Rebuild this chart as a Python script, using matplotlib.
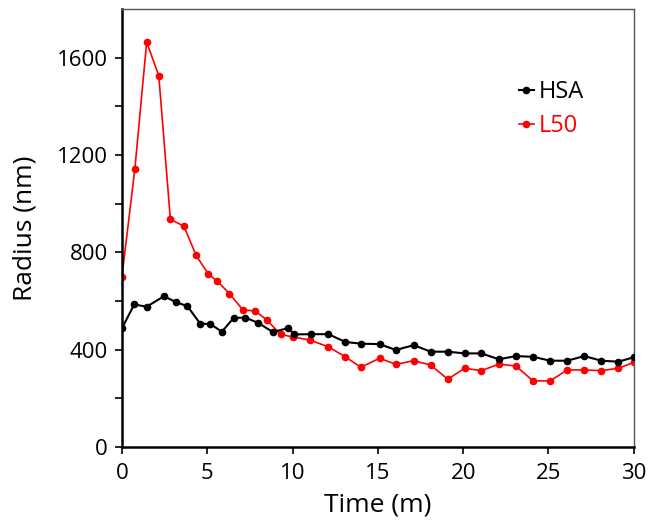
import matplotlib.pyplot as plt

# HSA series (time in minutes, radius in nm)
hsa_t = [0, 0.72, 1.45, 2.47, 3.16, 3.84, 4.59, 5.18, 5.86, 6.55, 7.24, 8.0, 8.84,
         9.75, 10.1, 11.06, 12.1, 13.1, 14.0, 15.1, 16.06, 17.1, 18.1, 19.1, 20.1,
         21.06, 22.1, 23.1, 24.1, 25.1, 26.1, 27.1, 28.1, 29.1, 30]
hsa_r = [487, 585, 576, 619, 595, 578, 506, 505, 473, 530, 531, 509, 472,
         488, 462, 463, 463, 431, 424, 422, 398, 418, 391, 391, 384,
         384, 360, 373, 370, 354, 354, 373, 354, 350, 368]

# L50 series
l50_t = [0, 0.76, 1.45, 2.16, 2.84, 3.63, 4.35, 5.04, 5.6, 6.3, 7.1, 7.8, 8.5,
         9.3, 10.0, 11.0, 12.1, 13.1, 14.0, 15.1, 16.06, 17.1, 18.1, 19.1, 20.1,
         21.06, 22.1, 23.1, 24.1, 25.1, 26.1, 27.1, 28.1, 29.1, 30]
l50_r = [699, 1143, 1663, 1526, 935, 907, 787, 712, 680, 630, 562, 559, 521,
         462, 452, 439, 411, 370, 327, 364, 339, 354, 336, 278, 323,
         313, 340, 332, 271, 271, 316, 316, 313, 323, 347]

xticks = [0, 5, 10, 15, 20, 25, 30]
yticks = [0, 400, 800, 1200, 1600]

plt.rcParams['font.family'] = ['Open Sans', 'DejaVu Sans']

fig = plt.figure(figsize=(6.52, 5.22), dpi=100)
ax = fig.add_axes([0.187, 0.144, 0.785, 0.839])

ax.plot(hsa_t, hsa_r, color='black', lw=1.5, marker='o', ms=4.5, label='HSA', zorder=3)
ax.plot(l50_t, l50_r, color='#ff0000', lw=1.2, marker='o', ms=4.5, label='L50', zorder=2)

ax.set_xlim(0, 30)
ax.set_ylim(0, 1800)
ax.set_xticks(xticks)
ax.set_yticks(yticks)
ax.set_yticks(range(200, 1800, 400), minor=True)
ax.tick_params(axis='both', labelsize=16, direction='out', length=5, width=1.2, colors='black')
ax.tick_params(axis='y', which='minor', direction='out', length=5, width=1.2)
ax.tick_params(axis='x', pad=7)
ax.tick_params(axis='y', pad=5)

for s in ['left', 'bottom']:
    ax.spines[s].set_linewidth(1.8)
for s in ['top', 'right']:
    ax.spines[s].set_linewidth(1.0)
    ax.spines[s].set_color('#555555')

ax.set_xlabel('Time (m)', fontsize=19, labelpad=6)
ax.set_ylabel('Radius (nm)', fontsize=19, labelpad=14)

leg = ax.legend(loc='upper left', bbox_to_anchor=(0.735, 0.885), frameon=False,
                fontsize=17, handlelength=0.6, handletextpad=0.2, labelspacing=0.4,
                labelcolor='linecolor')

fig.savefig('out.png', dpi=100)
